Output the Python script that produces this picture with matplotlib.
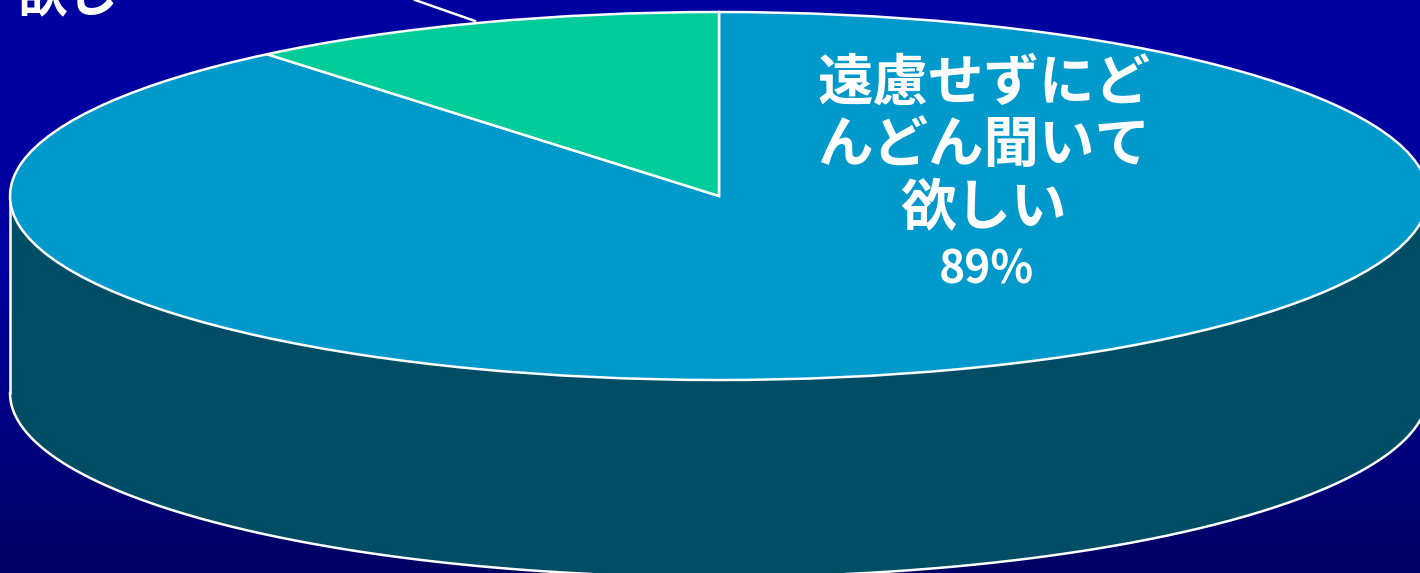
import numpy as np
import matplotlib
matplotlib.use("Agg")
import matplotlib.pyplot as plt

plt.rcParams['font.family'] = ['Noto Sans CJK JP', 'DejaVu Sans']

# share of answers, largest first
big_label = "遠慮せずにど\nんどん聞いて\n欲しい"
big_value = "89%"
small_label = "欲し"
shares = [89, 11]
top_colors = ["#0099CC", "#00CC99"]
side_color = "#004D66"

W, H = 1420, 573
cx, cy, rx, ry, depth = 719, 196, 709, 184, 197
xlim = (-cx / rx, (W - cx) / rx)
ylim = ((cy - H) / ry, cy / ry)
edge_lw = 1.8

fig = plt.figure(figsize=(W / 100, H / 100), dpi=100)
ax = fig.add_axes([0, 0, 1, 1])

# pie top, stretched flat once the limits are set
ax.pie(shares, colors=top_colors, startangle=90, counterclock=False,
       wedgeprops=dict(edgecolor="white", linewidth=edge_lw, zorder=3))

# background: flat blue that darkens towards the bottom
rows = np.linspace(0, 1, 256)
blue = np.interp(rows, [0, 0.48, 1], [0xA0, 0xA0, 0x64]) / 255
bg = np.zeros((256, 1, 3))
bg[:, 0, 2] = blue
ax.imshow(bg, extent=(xlim[0], xlim[1], ylim[0], ylim[1]),
          origin="upper", aspect="auto", zorder=0)

# side wall of the cylinder
theta = np.linspace(np.pi, 2 * np.pi, 400)
d = depth / ry
ax.fill_between(np.cos(theta), np.sin(theta), np.sin(theta) - d,
                color=side_color, lw=0, zorder=1)
ax.plot(np.cos(theta), np.sin(theta) - d, color="white", lw=edge_lw, zorder=2)
ax.plot([-1, -1], [0, -d], color="white", lw=edge_lw, zorder=2)
ax.plot([1, 1], [0, -d], color="white", lw=edge_lw, zorder=2)

ax.text((984 - cx) / rx, (cy - 146) / ry, big_label, color="white", fontsize=40,
        fontweight="bold", ha="center", va="center", linespacing=1.16, zorder=4)
ax.text((986 - cx) / rx, (cy - 271) / ry, big_value, color="white", fontsize=32,
        fontweight="bold", ha="center", va="center", zorder=4)

# label of the small slice, cut by the top of the frame
ax.text((15 - cx) / rx, (cy - 12) / ry, small_label, color="white", fontsize=37,
        fontweight="bold", ha="left", va="baseline", zorder=4)
ax.plot([(415 - cx) / rx, (475 - cx) / rx], [(cy - 0) / ry, (cy - 21) / ry],
        color="white", lw=edge_lw, zorder=2)

ax.set_aspect("auto")
ax.set_xlim(xlim)
ax.set_ylim(ylim)
ax.axis("off")

fig.savefig("out.png", dpi=100)
